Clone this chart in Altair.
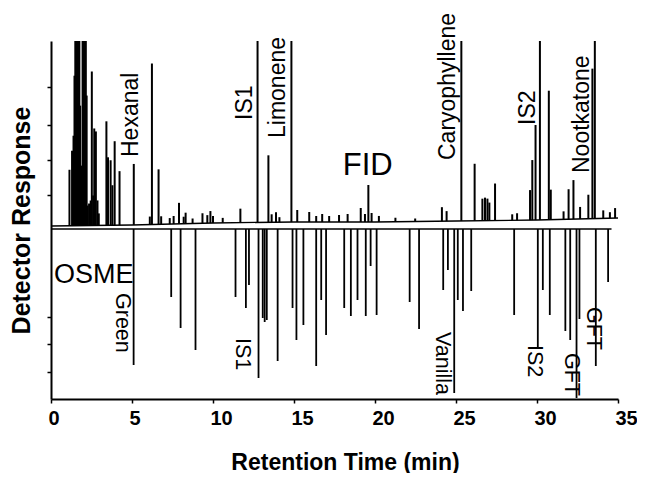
import altair as alt
import numpy as np
import pandas as pd

# ---------------- data ----------------
# FID peaks: retention time (min) and height above the FID baseline (response units)
fid_times = [1.14, 1.30, 1.39, 1.45, 1.50, 1.55, 1.60, 1.65, 1.69, 1.75, 1.80, 1.90,
             1.95, 2.00, 2.05, 2.10, 2.15, 2.20, 2.26, 2.35, 2.45, 2.52, 2.60, 2.67,
             2.77, 2.87, 2.95,
             3.42, 3.52, 3.68, 3.79, 3.93, 4.23, 5.11, 6.10, 6.23, 6.64, 6.80, 7.33,
             7.57, 7.90, 8.19, 8.31, 8.74, 9.35, 9.65, 9.84, 10.0, 10.6, 11.69, 12.75,
             13.42, 13.62, 13.89, 14.10, 14.84, 15.20, 15.94, 16.37, 16.74, 17.17, 17.78,
             18.31, 19.12, 19.38, 19.59, 19.79, 20.24, 21.26, 22.48, 24.13, 24.42, 25.33,
             26.15, 26.63, 26.79, 26.94, 27.06, 27.41, 28.47, 28.77, 29.57, 29.71, 29.91,
             30.18, 30.73, 30.85, 31.64, 31.95, 32.25, 32.66, 33.17, 33.42, 33.57, 34.09,
             34.50, 34.82]
fid_heights = [56, 75, 90, 150, 200, 200, 200, 200, 200, 200, 120, 60,
               200, 200, 200, 200, 200, 130, 20, 22, 25, 154, 30, 97,
               94, 25, 12,
               104, 68, 65, 40, 84, 54, 61, 8, 161, 55, 8, 6,
               8, 21, 7, 11, 5, 10, 8, 12, 7, 5, 14, 200,
               67, 8, 10, 5, 200, 12, 10, 6, 8, 6, 7,
               8, 14, 8, 37, 9, 6, 4, 3, 14, 10, 200,
               57, 22, 23, 22, 18, 37, 6, 7, 30, 60, 95,
               200, 129, 30, 8, 30, 39, 12, 24, 150, 200, 8,
               6, 10]
fid_base_times = [0, 5, 10, 15, 20, 25, 30, 35]
fid_base_levels = [173, 174, 176, 177, 177, 178, 179, 181]

# OSME peaks: retention time (min) and depth below the OSME baseline
osme_times = [5.10, 7.42, 8.00, 8.92, 11.39, 12.03, 12.22, 12.81, 13.07, 13.19, 13.32,
              13.99, 14.91, 15.15, 15.58, 16.37, 16.68, 16.98, 18.10, 18.51, 18.92,
              19.43, 19.73, 20.10, 22.14, 22.72, 24.21, 24.50, 24.89, 25.11, 25.43,
              25.94, 28.59, 30.05, 30.36, 30.79, 31.75, 32.05, 32.44, 32.62, 33.63, 34.39]
osme_depths = [136, 68, 99, 121, 68, 79, 56, 149, 89, 93, 91,
               132, 79, 111, 96, 137, 71, 106, 79, 87, 71,
               87, 37, 86, 73, 100, 61, 41, 164, 71, 82,
               62, 86, 118, 61, 86, 102, 111, 169, 90, 137, 53]
osme_base_level = 170
osme_end = 34.6

fid_label_text = ["Hexanal", "IS1", "Limonene", "Caryophyllene", "IS2", "Nootkatone"]
fid_label_t = [4.95, 11.97, 14.02, 24.50, 29.47, 32.80]
fid_label_y = [242, 279, 261, 239, 274, 226]

osme_label_text = ["Green", "IS1", "Vanilla", "IS2", "GFT", "GFT"]
osme_label_t = [4.40, 11.78, 24.16, 29.81, 32.07, 33.48]
osme_label_y = [106, 61, 67, 54, 46, 92]

x_ticks = [0, 5, 10, 15, 20, 25, 30, 35]
y_ticks = [312, 274, 239, 204, 82, 55, 27]

# ---------------- tables ----------------
fid_df = pd.DataFrame({"t": fid_times, "h": fid_heights})
fid_df["base"] = np.interp(fid_df["t"], fid_base_times, fid_base_levels)
fid_df["top"] = fid_df["base"] + fid_df["h"]
fid_base_df = pd.DataFrame({"t": fid_base_times, "y": fid_base_levels})

osme_df = pd.DataFrame({"t": osme_times, "d": osme_depths})
osme_df["base"] = osme_base_level
osme_df["bottom"] = osme_base_level - osme_df["d"]
osme_base_df = pd.DataFrame({"t": [0, osme_end], "y": [osme_base_level] * 2})

fid_lab = pd.DataFrame({"t": fid_label_t, "y": fid_label_y, "label": fid_label_text})
osme_lab = pd.DataFrame({"t": osme_label_t, "y": osme_label_y, "label": osme_label_text})
big_lab = pd.DataFrame({"t": [19.55, 0.18], "y": [224, 116], "label": ["FID", "OSME"]})

FONT = "Liberation Sans"

xscale = alt.Scale(domain=[0, 35], nice=False, zero=False)
yscale = alt.Scale(domain=[0, 358], nice=False, zero=False)

xax = alt.Axis(values=x_ticks, format="d", title="Retention Time (min)", grid=False,
               domainWidth=2, domainColor="black", tickColor="black", tickSize=4,
               tickWidth=1.5, labelAlign="left", labelOffset=-3, labelBaseline="alphabetic",
               labelPadding=21, labelFont=FONT, labelFontSize=20, labelFontWeight="bold",
               labelColor="black", labelFlush=False, labelOverlap=False,
               titleFont=FONT, titleFontSize=23, titleFontWeight="bold", titleColor="black",
               titleBaseline="alphabetic", titleY=70, titleX=294, titleAlign="center")
yax = alt.Axis(values=y_ticks, labels=False, title="Detector Response", grid=False,
               domainWidth=2, domainColor="black", tickColor="black", tickSize=4,
               tickWidth=1.5, titleFont=FONT, titleFontSize=25, titleFontWeight="bold",
               titleColor="black", titleX=-30, titleY=179, titleAngle=270,
               titleAlign="center", titleBaseline="middle")

X = alt.X("t:Q", scale=xscale, axis=xax)


def Y(field):
    return alt.Y(field, scale=yscale, axis=yax)


fid_line = alt.Chart(fid_base_df).mark_line(color="black", strokeWidth=1.3).encode(
    x=X, y=Y("y:Q"))
fid_peaks = alt.Chart(fid_df).mark_rule(color="black", strokeWidth=2, clip=True).encode(
    x=X, y=Y("base:Q"), y2="top:Q")
osme_line = alt.Chart(osme_base_df).mark_line(color="black", strokeWidth=1.5).encode(
    x=X, y=Y("y:Q"))
osme_peaks = alt.Chart(osme_df).mark_rule(color="black", strokeWidth=1.8, clip=True).encode(
    x=X, y=Y("base:Q"), y2="bottom:Q")
fid_text = alt.Chart(fid_lab).mark_text(angle=270, align="left", baseline="middle",
                                        font=FONT, fontSize=23, color="black").encode(
    x=X, y=Y("y:Q"), text="label:N")
osme_text = alt.Chart(osme_lab).mark_text(angle=90, align="left", baseline="middle",
                                          font=FONT, fontSize=21.5, color="black").encode(
    x=X, y=Y("y:Q"), text="label:N")
fid_big = alt.Chart(big_lab.iloc[[0]]).mark_text(align="center", baseline="alphabetic",
                                                 font=FONT, fontSize=31, color="black").encode(
    x=X, y=Y("y:Q"), text="label:N")
osme_big = alt.Chart(big_lab.iloc[[1]]).mark_text(align="left", baseline="alphabetic",
                                                  font=FONT, fontSize=27, color="black").encode(
    x=X, y=Y("y:Q"), text="label:N")

chart = alt.layer(fid_line, fid_peaks, osme_line, osme_peaks, fid_text, osme_text,
                  fid_big, osme_big).properties(
    width=567, height=358,
    autosize=alt.AutoSizeParams(type="none"),
    padding={"left": 43, "top": 33, "right": 19, "bottom": 74},
    background="white",
).configure_view(stroke=None)

chart.save("out.html", embed_options={"renderer": "svg", "actions": False})
